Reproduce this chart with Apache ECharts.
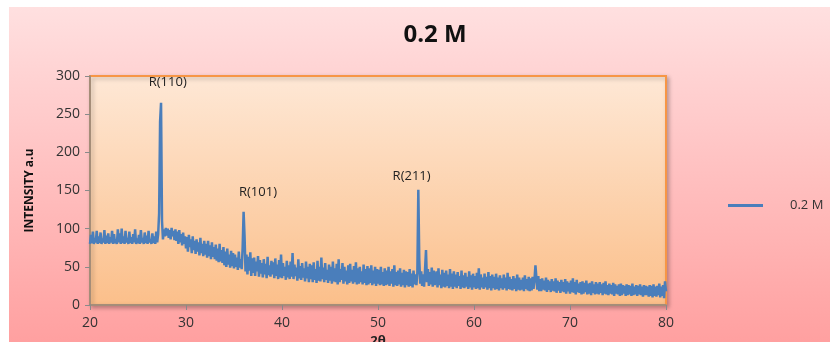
<!DOCTYPE html>
<html>
<head>
<meta charset="utf-8">
<script src="https://cdn.jsdelivr.net/npm/echarts@6/dist/echarts.min.js"></script>
<style>
  html, body { margin: 0; padding: 0; background: #fff; }
  #chart { position: absolute; left: 9px; top: 7px; width: 821px; height: 335px; }
</style>
</head>
<body>
<div id="chart"></div>
<script>
// 2θ starts at 20 and goes up in 0.1 steps
var thetaStart = 20;
var thetaStep = 0.1;

// intensity, one row per degree (20.0 ... 79.9), then 80.0
var intensity = [
  80,92,81,96,80,88,82,97,80,90,
  81,95,80,87,82,98,80,91,81,94,
  80,89,82,97,80,93,81,86,80,99,
  82,94,80,100,81,90,80,97,82,88,
  80,96,81,89,80,93,82,99,80,87,
  81,92,80,98,82,88,80,95,81,91,
  80,97,82,86,80,94,81,90,80,96,
  82,93,120,240,265,110,86,99,90,101,
  91,100,88,98,86,101,90,97,85,99,
  84,96,80,98,82,93,78,95,80,90,
  74,89,70,92,76,86,68,90,72,84,
  67,86,70,82,65,88,68,80,64,84,
  66,80,62,84,64,78,60,82,63,76,
  60,79,58,74,56,80,57,72,55,76,
  52,70,50,74,53,66,49,71,51,68,
  48,66,50,62,46,70,49,60,47,75,
  122,90,44,66,40,63,45,69,38,61,
  42,62,38,57,44,64,37,59,41,55,
  36,60,40,54,35,63,39,52,37,58,
  40,56,35,61,38,53,34,59,36,66,
  35,55,38,50,33,58,36,52,34,57,
  37,68,34,53,38,49,32,60,35,51,
  33,55,36,48,31,57,35,50,30,54,
  34,52,30,56,33,47,29,58,32,50,
  31,62,34,49,30,55,33,46,29,53,
  32,50,28,57,31,48,30,54,27,60,
  30,47,33,55,28,50,31,45,27,52,
  29,54,31,46,28,51,30,56,27,48,
  28,50,30,44,27,53,29,47,26,51,
  27,48,29,52,26,45,28,50,25,47,
  28,46,26,50,27,43,25,48,26,45,
  27,50,25,44,28,47,24,52,26,43,
  25,45,27,48,24,42,26,46,23,44,
  26,43,24,47,25,41,23,45,27,40,
  26,42,151,60,28,44,25,40,24,46,
  72,30,47,25,43,27,49,24,45,26,
  25,44,23,48,26,40,22,46,24,42,
  23,45,25,40,22,47,24,41,21,44,
  24,40,22,43,25,38,21,45,23,39,
  22,42,24,37,21,44,23,39,20,41,
  23,38,21,42,22,48,20,40,23,36,
  21,41,23,37,20,43,22,38,19,40,
  22,37,20,41,21,36,19,39,22,35,
  20,40,22,36,19,42,21,37,20,34,
  19,38,21,35,18,40,20,36,19,33,
  20,36,18,39,21,34,19,37,18,35,
  19,37,21,33,52,36,20,38,18,34,
  18,35,20,32,19,36,17,33,20,31,
  17,34,19,31,18,35,16,32,19,30,
  16,33,18,30,17,34,15,31,18,29,
  15,32,17,35,16,30,14,33,17,28,
  16,30,14,31,15,29,17,32,14,28,
  15,29,13,31,16,27,14,30,15,28,
  14,30,16,27,13,29,15,31,14,26,
  13,28,15,26,14,29,12,27,15,25,
  14,27,12,28,13,26,15,25,12,27,
  13,26,14,25,12,28,13,24,14,26,
  12,25,14,27,13,24,11,26,13,25,
  13,24,11,26,12,25,10,27,12,24,
  11,25,13,28,10,24,12,26,9,31,
  18
];

// peak labels and where they sit
var peakNames = ['R(110)', 'R(101)', 'R(211)'];
var peakTheta = [28.1, 37.5, 53.5];
var peakY = [292, 147, 169];

var xTicks = [20, 30, 40, 50, 60, 70, 80];
var yTicks = [0, 50, 100, 150, 200, 250, 300];

var seriesData = intensity.map(function (v, i) {
    return [+(thetaStart + i * thetaStep).toFixed(1), v];
});

var peakMarks = peakNames.map(function (n, i) {
    return { name: n, coord: [peakTheta[i], peakY[i]] };
});

var myChart = echarts.init(document.getElementById('chart'));

var option = {
    backgroundColor: new echarts.graphic.LinearGradient(0, 0, 0, 1, [
        { offset: 0, color: '#ffe0e0' },
        { offset: 1, color: '#ffa0a0' }
    ]),
    textStyle: { fontFamily: 'Open Sans' },
    title: {
        text: '0.2 M',
        left: 421,
        top: 11,
        textAlign: 'center',
        textStyle: { fontSize: 24, fontWeight: 'bold', color: '#111', fontFamily: 'Open Sans' }
    },
    legend: {
        data: ['0.2 M'],
        left: 714,
        top: 187,
        icon: 'rect',
        itemWidth: 35,
        itemHeight: 3,
        itemGap: 0,
        textStyle: { fontSize: 13, color: '#333', padding: [0, 0, 0, 22] }
    },
    grid: {
        left: 81,
        right: 164,
        top: 69,
        bottom: 37,
        outerBoundsMode: 'none',
        containLabel: false,
        show: true,
        borderColor: '#f79646',
        borderWidth: 2,
        shadowColor: 'rgba(0,0,0,0.25)',
        shadowBlur: 4,
        shadowOffsetX: 2,
        shadowOffsetY: 2,
        backgroundColor: new echarts.graphic.LinearGradient(0, 0, 0, 1, [
            { offset: 0, color: '#fee8d6' },
            { offset: 1, color: '#fbbf8a' }
        ])
    },
    xAxis: {
        type: 'value',
        min: xTicks[0],
        max: xTicks[xTicks.length - 1],
        interval: 10,
        name: '2θ',
        nameLocation: 'middle',
        nameGap: 22,
        nameTextStyle: { fontSize: 13, fontWeight: 'bold', color: '#222' },
        axisLine: { lineStyle: { color: '#8a8a8a', width: 1.5 } },
        axisTick: { show: true, length: 5, lineStyle: { color: '#8a8a8a' } },
        axisLabel: { fontSize: 14, color: '#333', margin: 11 },
        splitLine: { show: false }
    },
    yAxis: {
        type: 'value',
        min: yTicks[0],
        max: yTicks[yTicks.length - 1],
        interval: 50,
        name: 'INTENSITY a.u',
        nameLocation: 'middle',
        nameGap: 54,
        nameTextStyle: { fontSize: 12, fontWeight: 'bold', color: '#111' },
        axisLine: { show: true, lineStyle: { color: '#8a8a8a', width: 1.5 } },
        axisTick: { show: true, length: 5, lineStyle: { color: '#8a8a8a' } },
        axisLabel: { fontSize: 14, color: '#333', margin: 10 },
        splitLine: { show: false }
    },
    series: [{
        name: '0.2 M',
        type: 'line',
        data: seriesData,
        showSymbol: false,
        symbol: 'none',
        color: '#4a7ebb',
        lineStyle: { color: '#4a7ebb', width: 2.5 },
        animation: false,
        markPoint: {
            symbol: 'circle',
            symbolSize: 0,
            label: { show: true, formatter: '{b}', color: '#222', fontSize: 13, position: 'inside' },
            data: peakMarks
        }
    }]
};

myChart.setOption(option);
window.addEventListener('resize', function () {
    myChart.resize();
});
</script>
</body>
</html>
